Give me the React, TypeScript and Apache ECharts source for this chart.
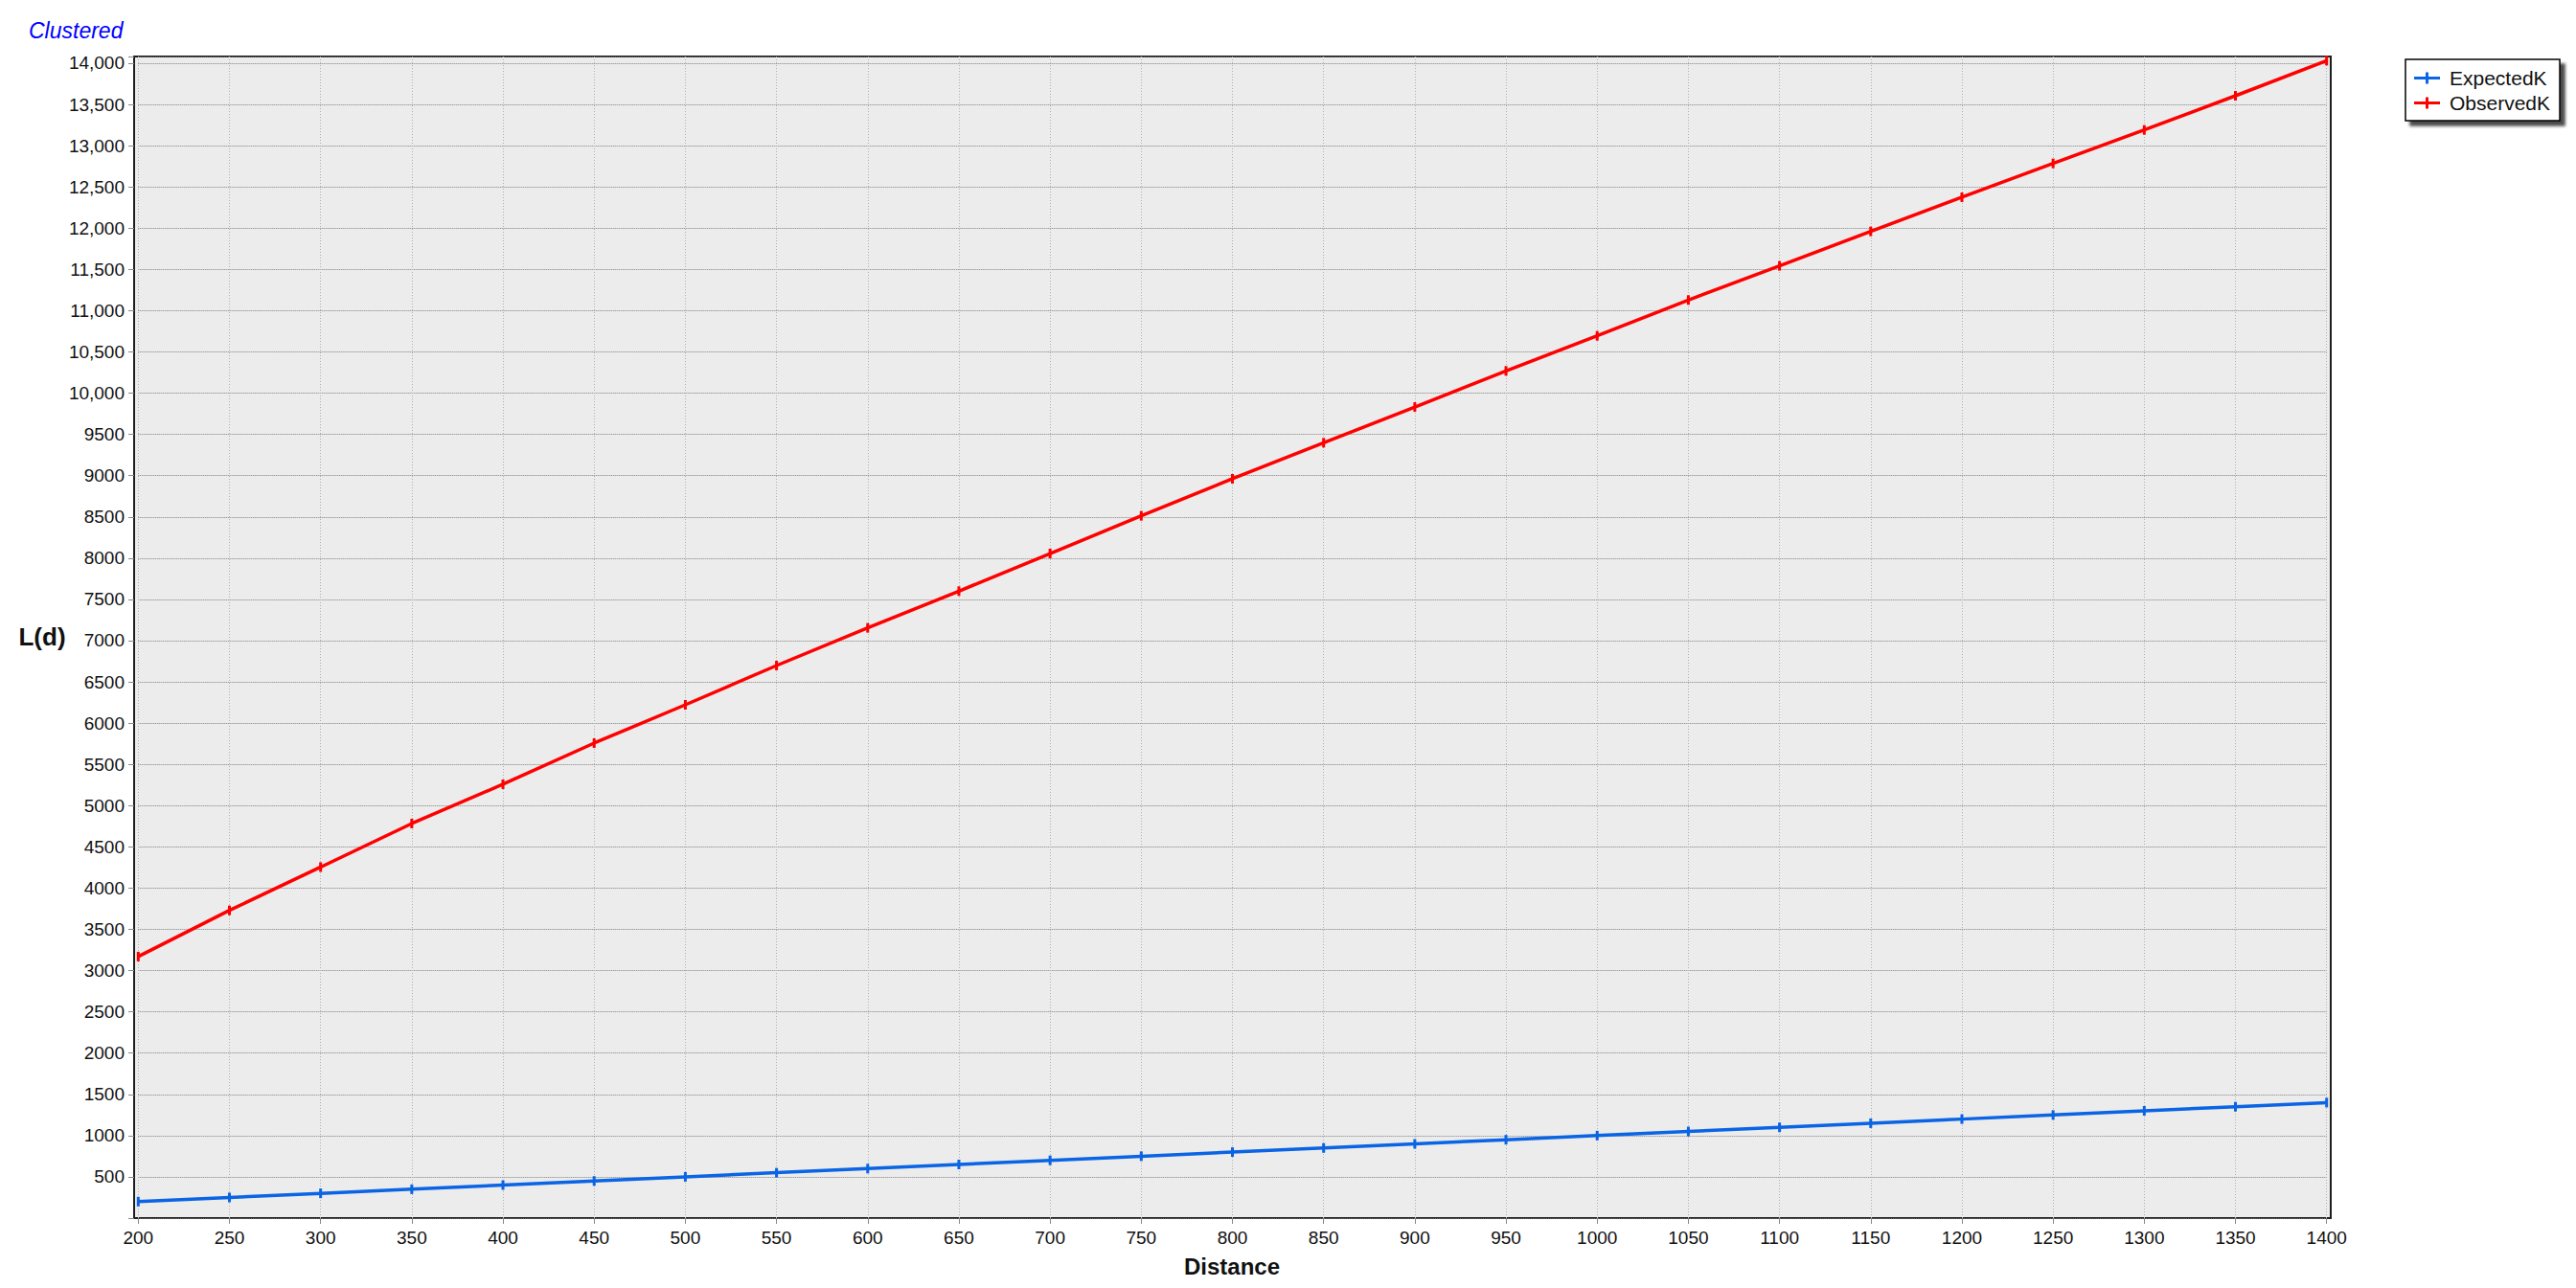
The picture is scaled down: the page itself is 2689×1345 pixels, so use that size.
import React, { useEffect, useRef } from "react";
import * as echarts from "echarts";

const chartTitle = "Clustered";
const xAxisTitle = "Distance";
const yAxisTitle = "L(d)";
const seriesNames = ["ExpectedK", "ObservedK"];
const seriesColors = ["#0a64e4", "#ff0000"];

const distances = [200, 250, 300, 350, 400, 450, 500, 550, 600, 650, 700, 750, 800, 850, 900, 950, 1000, 1050, 1100, 1150, 1200, 1250, 1300, 1350, 1400];
const expectedK = [200, 250, 300, 350, 400, 450, 500, 550, 600, 650, 700, 750, 800, 850, 900, 950, 1000, 1050, 1100, 1150, 1200, 1250, 1300, 1350, 1400];
const observedK = [3170, 3730, 4255, 4783, 5259, 5758, 6222, 6698, 7155, 7600, 8056, 8513, 8962, 9399, 9832, 10270, 10695, 11129, 11543, 11961, 12375, 12785, 13191, 13605, 14031];

const xMin = 200;
const xMax = 1400;
const xStep = 50;
const yMin = 0;
const yMax = 14081;
const yStep = 500;

const FONT = "Liberation Sans";

function formatY(v: number): string {
  if (v === 0 || v % yStep !== 0) return "";
  if (v >= 10000) return v.toLocaleString("en-US");
  return String(v);
}

function formatX(v: number): string {
  return String(v);
}

export default function App() {
  const ref = useRef<HTMLDivElement>(null);

  useEffect(() => {
    if (!ref.current) return;
    const chart = echarts.init(ref.current, undefined, { renderer: "svg" });
    const markerPath = "path://M0,0h2v10h-2z";
    const legendIcon = "path://M0,4.5h27v3h-27z M12,0h3v12h-3z";

    const makeSeries = (name: string, values: number[], color: string) => ({
      name,
      type: "line",
      xAxisIndex: 1,
      yAxisIndex: 1,
      data: distances.map((d, i) => [d, values[i]]),
      symbol: markerPath,
      symbolSize: [3, 10],
      showSymbol: true,
      lineStyle: { color, width: 3.5 },
      itemStyle: { color },
      emphasis: { disabled: true },
      clip: false,
      z: 3,
    });

    chart.setOption({
      animation: false,
      textStyle: { fontFamily: FONT },
      grid: [
        {
          left: 140,
          top: 59,
          width: 2293,
          height: 1213,
          show: true,
          backgroundColor: "#ececec",
          borderColor: "#1e1e1e",
          borderWidth: 2,
        },
        {
          left: 144.3,
          top: 59,
          width: 2284.4,
          height: 1213,
        },
      ],
      xAxis: [
        { gridIndex: 0, type: "value", show: false, min: 0, max: 1 },
        {
          gridIndex: 1,
          type: "value",
          min: xMin,
          max: xMax,
          interval: xStep,
          position: "bottom",
          axisLine: { show: false },
          axisTick: { show: true, length: 6, lineStyle: { color: "#888888", width: 1 } },
          axisLabel: { color: "#111111", fontSize: 19, fontFamily: FONT, margin: 11, formatter: (v: number) => formatX(v) },
          splitLine: { show: true, lineStyle: { color: "#b0b0b0", type: [1, 2], width: 1 } },
        },
      ],
      yAxis: [
        { gridIndex: 0, type: "value", show: false, min: 0, max: 1 },
        {
          gridIndex: 1,
          type: "value",
          min: yMin,
          max: yMax,
          interval: yStep,
          offset: 4.3,
          axisLine: { show: false },
          axisTick: { show: true, length: 6, lineStyle: { color: "#888888", width: 1 } },
          axisLabel: {
            color: "#111111",
            fontSize: 19,
            fontFamily: FONT,
            margin: 10,
            formatter: (v: number) => formatY(v),
          },
          splitLine: { show: true, lineStyle: { color: "#808080", type: [1, 1], width: 1 } },
        },
      ],
      legend: {
        orient: "vertical",
        left: 2511,
        top: 62,
        padding: [9, 10, 8, 9],
        itemGap: 5,
        itemWidth: 27,
        itemHeight: 12,
        icon: legendIcon,
        backgroundColor: "#ffffff",
        borderColor: "#000000",
        borderWidth: 1.5,
        borderRadius: 0,
        shadowColor: "rgba(0,0,0,0.7)",
        shadowBlur: 3,
        shadowOffsetX: 5,
        shadowOffsetY: 5,
        textStyle: { fontFamily: FONT, fontSize: 21, color: "#111111", lineHeight: 21, padding: [0, 0, 0, 5] },
        data: seriesNames,
        selectedMode: false,
      },
      graphic: [
        {
          type: "text",
          left: 30,
          top: 20,
          style: {
            text: chartTitle,
            fill: "#0000ff",
            fontFamily: FONT,
            fontStyle: "italic",
            fontSize: 23,
          },
        },
        {
          type: "text",
          x: 44,
          y: 665,
          style: {
            text: yAxisTitle,
            fill: "#111111",
            fontFamily: FONT,
            fontWeight: "bold",
            fontSize: 26,
            textAlign: "center",
            textVerticalAlign: "middle",
          },
        },
        {
          type: "text",
          x: 1286,
          y: 1322,
          style: {
            text: xAxisTitle,
            fill: "#111111",
            fontFamily: FONT,
            fontWeight: "bold",
            fontSize: 24,
            textAlign: "center",
            textVerticalAlign: "middle",
          },
        },
      ],
      series: [
        makeSeries(seriesNames[0], expectedK, seriesColors[0]),
        makeSeries(seriesNames[1], observedK, seriesColors[1]),
      ],
    });

    return () => {
      chart.dispose();
    };
  }, []);

  return (
    <div
      ref={ref}
      style={{ position: "fixed", left: 0, top: 0, width: 2689, height: 1345, background: "#ffffff" }}
    />
  );
}
